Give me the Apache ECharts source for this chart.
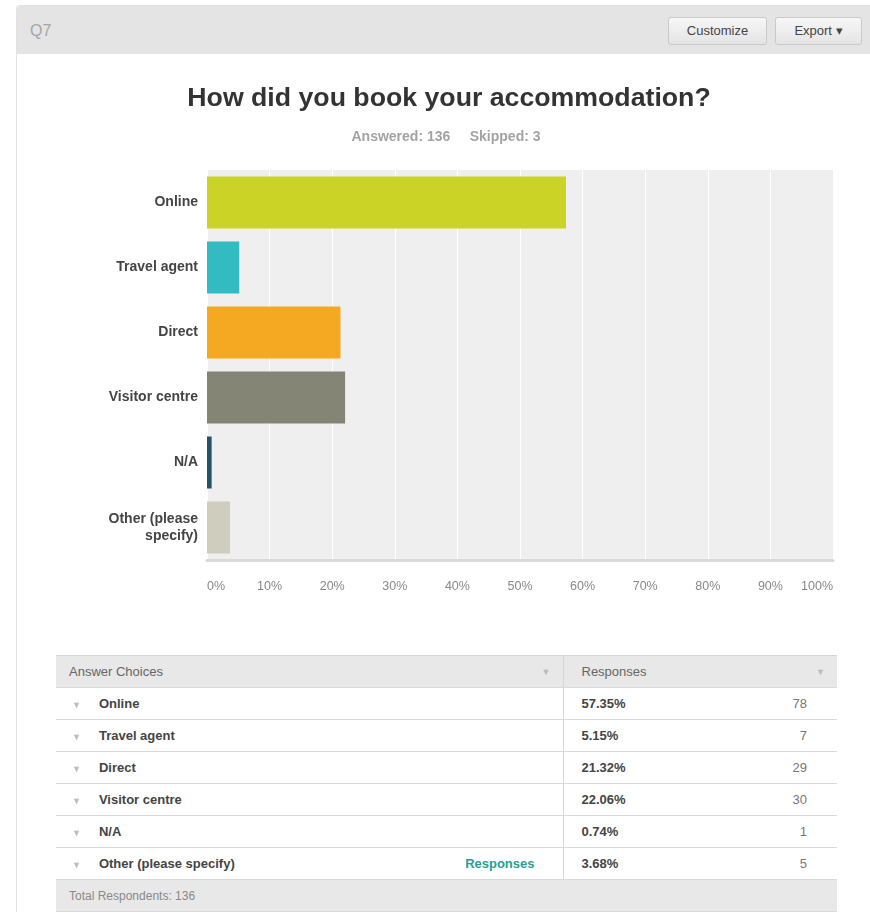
<!DOCTYPE html>
<html>
<head>
<meta charset="utf-8">
<script src="https://cdn.jsdelivr.net/npm/echarts@6/dist/echarts.min.js"></script>
<style>
  html, body { margin: 0; padding: 0; background: #fff; }
  body { width: 870px; height: 912px; position: relative; overflow: hidden;
         font-family: "Liberation Sans", Arial, sans-serif; }
  #panel { position: absolute; left: 16px; top: 5px; width: 860px; height: 920px;
           border-left: 1px solid #e2e2e2; border-top: 1px solid #e2e2e2; border-radius: 4px 0 0 0; }
  #head { position: absolute; left: 0; top: 0; right: 0; height: 48px; background: #e4e4e4;
          border-radius: 4px 0 0 0; }
  #qnum { position: absolute; left: 13px; top: 16px; font-size: 16px; color: #a6a6a6; }
  .btn { position: absolute; top: 11px; height: 26px; line-height: 26px; border: 1px solid #c9c9c9;
         border-radius: 3px; background: linear-gradient(#f7f7f7, #e4e4e4); color: #444;
         font-size: 13px; text-align: center; }
  #chart { position: absolute; left: 0; top: 0; width: 870px; height: 640px; }
  #tbl { position: absolute; left: 56px; top: 655px; width: 781px; border-collapse: collapse;
         table-layout: fixed; font-size: 13px; color: #555; }
  #tbl td { height: 31px; border-bottom: 1px solid #dadada; padding: 0; white-space: nowrap; }
  #tbl tr.hd td { background: #e8e8e8; border-top: 1px solid #d6d6d6; color: #666; }
  #tbl tr.ft td { background: #e8e8e8; color: #888; font-size: 12px; }
  .arr { color: #bbb; font-size: 9px; }
  .c1 { position: relative; }
  .lbl { font-weight: bold; color: #444; }
  .pct { font-weight: bold; color: #444; padding-left: 18px !important; border-left: 1px solid #d6d6d6; }
  .rsp { position: absolute; right: 28px; top: 8px; color: #2a9d96; font-weight: bold; }
  .harr { position: absolute; right: 12px; top: 11px; }
</style>
</head>
<body>
<div id="panel">
  <div id="head">
    <div id="qnum">Q7</div>
    <div class="btn" style="left:651px;width:97px;">Customize</div>
    <div class="btn" style="left:758px;width:85px;">Export &#9662;</div>
  </div>
</div>
<div id="chart"></div>
<table id="tbl">
  <colgroup><col style="width:507px"><col style="width:274px"></colgroup>
  <tbody id="rows"></tbody>
</table>
<script>
// Answer choices and how respondents split across them
const choices = ['Online', 'Travel agent', 'Direct', 'Visitor centre', 'N/A', 'Other (please specify)'];
const axisChoices = ['Online', 'Travel agent', 'Direct', 'Visitor centre', 'N/A', 'Other (please\nspecify)'];
const percents = [57.35, 5.15, 21.32, 22.06, 0.74, 3.68];
const counts = [78, 7, 29, 30, 1, 5];
const barColors = ['#cad326', '#32bbc0', '#f5a822', '#858576', '#23526a', '#cfcdbd'];
const answered = 136;
const skipped = 3;

const chart = echarts.init(document.getElementById('chart'), null, { renderer: 'canvas' });
chart.setOption({
  animation: false,
  title: [{
    text: 'How did you book your accommodation?',
    left: 444, top: 80, textAlign: 'center',
    textStyle: { fontFamily: 'Liberation Sans', fontSize: 26.7, fontWeight: 'bold', color: '#333' }
  }, {
    text: 'Answered: ' + answered + '     Skipped: ' + skipped,
    left: 441, top: 125, textAlign: 'center',
    textStyle: { fontFamily: 'Liberation Sans', fontSize: 14, fontWeight: 'bold', color: '#a3a3a3' }
  }],
  grid: {
    left: 207, top: 170, width: 626, height: 390,
    show: true, backgroundColor: '#efefef', borderWidth: 0
  },
  xAxis: {
    type: 'value', min: 0, max: 100, interval: 10,
    axisLine: { show: true, onZero: false, lineStyle: { color: '#dadada', width: 3 } },
    axisTick: { show: false },
    splitLine: { show: true, lineStyle: { color: '#ffffff', width: 1 } },
    axisLabel: {
      formatter: '{value}%', color: '#888', fontSize: 12.5, margin: 20,
      fontFamily: 'Liberation Sans',
      alignMinLabel: 'left', alignMaxLabel: 'right'
    }
  },
  yAxis: {
    type: 'category', data: axisChoices, inverse: true,
    axisLine: { show: false }, axisTick: { show: false },
    axisLabel: {
      color: '#444', fontSize: 14, fontWeight: 'bold', margin: 9,
      fontFamily: 'Liberation Sans', lineHeight: 17
    }
  },
  series: [{
    type: 'bar',
    barWidth: 52,
    data: percents.map((v, i) => ({ value: v, itemStyle: { color: barColors[i] } }))
  }]
});

// Response table built from the same values
const rows = document.getElementById('rows');
let html = '<tr class="hd"><td class="c1" style="padding-left:13px">Answer Choices<span class="arr harr">&#9660;</span></td>' +
           '<td class="c1" style="padding-left:18px;border-left:1px solid #d6d6d6;color:#666">Responses<span class="arr harr">&#9660;</span></td></tr>';
choices.forEach((c, i) => {
  const other = i === choices.length - 1;
  html += '<tr><td class="c1"><span class="arr" style="padding:0 18px 0 16px">&#9660;</span><span class="lbl">' + c + '</span>' +
          (other ? '<span class="rsp">Responses</span>' : '') + '</td>' +
          '<td class="pct" style="position:relative">' + percents[i].toFixed(2) + '%' +
          '<span style="position:absolute;right:30px;top:8px;font-weight:normal;color:#777">' + counts[i] + '</span></td></tr>';
});
html += '<tr class="ft"><td colspan="2" style="padding-left:13px">Total Respondents: ' + answered + '</td></tr>';
rows.innerHTML = html;
</script>
</body>
</html>
